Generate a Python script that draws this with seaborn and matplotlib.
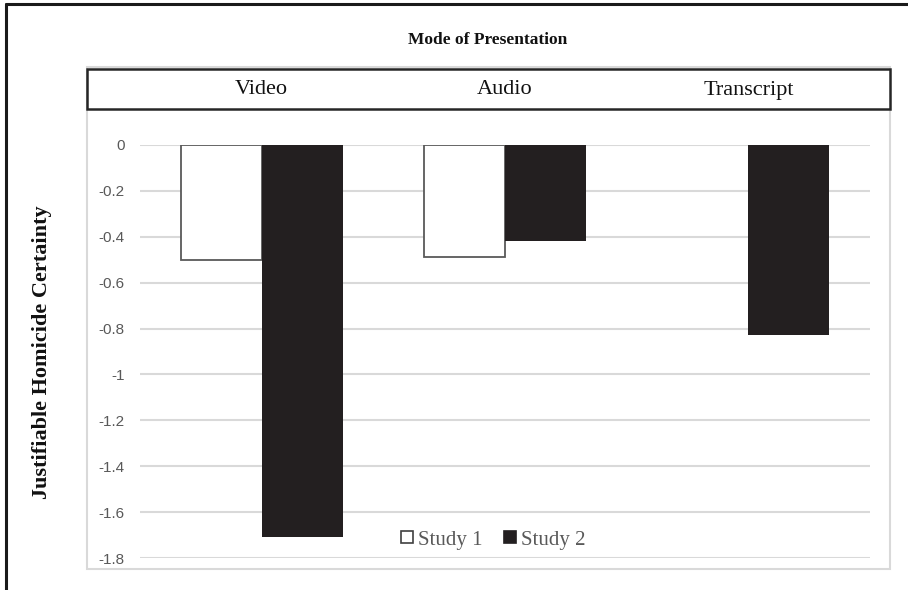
import numpy as np
import pandas as pd
import matplotlib
matplotlib.use("Agg")
import matplotlib.pyplot as plt
import matplotlib.transforms as mtransforms
from matplotlib.patches import Rectangle
from matplotlib.lines import Line2D
import seaborn as sns

# --------------------------------------------------------------------
# DATA
# --------------------------------------------------------------------

modes = ["Video", "Audio", "Transcript"]
studies = ["Study 1", "Study 2"]
study1 = [-0.50, -0.49, np.nan]
study2 = [-1.71, -0.42, -0.83]

y_ticks = [0, -0.2, -0.4, -0.6, -0.8, -1, -1.2, -1.4, -1.6, -1.8]
y_tick_labels = ["0", "-0.2", "-0.4", "-0.6", "-0.8", "-1", "-1.2", "-1.4", "-1.6", "-1.8"]

title = "Mode of Presentation"
y_label = "Justifiable Homicide Certainty"

df = pd.DataFrame({
    "Mode": modes * 2,
    "Study": [studies[0]] * len(modes) + [studies[1]] * len(modes),
    "Value": study1 + study2,
})

# --------------------------------------------------------------------
# PLOT
# --------------------------------------------------------------------

sns.set_theme(style="white")
plt.rcParams["font.family"] = ["Liberation Serif", "DejaVu Serif"]

fig = plt.figure(figsize=(9.08, 5.90), dpi=100)
ax = fig.add_axes([140 / 908, 32 / 590, 730 / 908, 413 / 590])

bar_colors = {"Study 1": "#ffffff", "Study 2": "#231f20"}
sns.barplot(data=df, x="Mode", y="Value", hue="Study", order=modes,
            hue_order=studies, palette=bar_colors, width=0.666,
            saturation=1, ax=ax, legend=False)

# Study 1 bars get a dark outline, Study 2 none
for bar in ax.containers[0]:
    bar.set_edgecolor("#595959")
    bar.set_linewidth(1.3)
for bar in ax.containers[1]:
    bar.set_edgecolor("#231f20")
    bar.set_linewidth(0)

ax.set_ylim(-1.8, 0)
ax.set_yticks(y_ticks)
ax.set_yticklabels(y_tick_labels, family="Liberation Sans", fontsize=11, color="#595959")
ax.tick_params(axis="y", length=0, pad=11)
ax.set_xticks([])
ax.set_xlabel("")
ax.set_ylabel("")
ax.yaxis.grid(True, color="#d9d9d9", linewidth=1.5, zorder=0)
ax.set_axisbelow(True)
ax.set_xlim(-0.5, len(modes) - 0.5)
for s in ax.spines.values():
    s.set_visible(False)

# outer light gray chart-area border
fig.add_artist(Rectangle((87 / 908, 21 / 590), 803 / 908, 502 / 590,
                         transform=fig.transFigure, fill=False,
                         edgecolor="#d9d9d9", linewidth=1.5))

# header box with category names
fig.add_artist(Rectangle((87 / 908, 481 / 590), 803 / 908, 40 / 590,
                         transform=fig.transFigure, facecolor="white",
                         edgecolor="#262626", linewidth=1.8))
trans = mtransforms.blended_transform_factory(ax.transData, fig.transFigure)
for i, m in enumerate(modes):
    fig.text(i, 500 / 590, m, transform=trans, ha="center", va="center",
             fontsize=16, color="#111111")

fig.text(488 / 908, 550 / 590, title, ha="center", va="center",
         fontsize=12.5, fontweight="bold", color="#111111")
fig.text(42 / 908, 238 / 590, y_label, ha="center", va="center",
         rotation=90, fontsize=16, fontweight="bold", color="#111111")

# legend at bottom of plot
handles = [
    Line2D([], [], marker="s", linestyle="none", markersize=8.5,
           markerfacecolor=bar_colors[s],
           markeredgecolor="#404040" if s == "Study 1" else "#231f20",
           markeredgewidth=1.2)
    for s in studies
]
leg = ax.legend(handles, studies, loc="center", bbox_to_anchor=(0.474, 0.044),
                ncol=2, frameon=False, handletextpad=-0.5, columnspacing=0.35,
                prop={"family": "Liberation Serif", "size": 15})
for t in leg.get_texts():
    t.set_color("#595959")

# page frame lines on the left and top edge
fig.add_artist(Line2D([6 / 908, 6 / 908], [0, 586 / 590], transform=fig.transFigure,
                      color="#1a1a1a", linewidth=2.2))
fig.add_artist(Line2D([6 / 908, 1], [586 / 590, 586 / 590], transform=fig.transFigure,
                      color="#1a1a1a", linewidth=2.2))

fig.savefig("out.png", dpi=100, facecolor="white")
